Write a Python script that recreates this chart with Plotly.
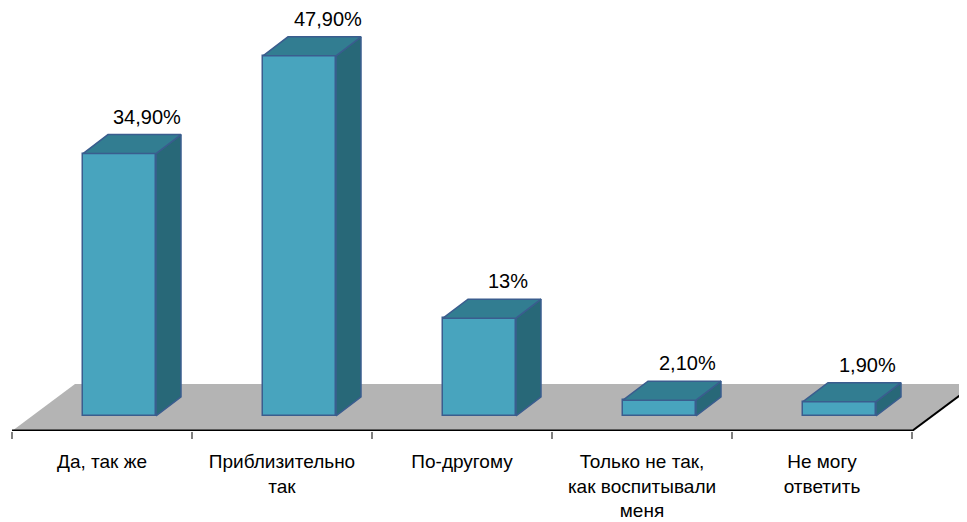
import plotly.graph_objects as go

# ---- data ----
categories = ["Да, так же", "Приблизительно<br>так", "По-другому",
              "Только не так,<br>как воспитывали<br>меня", "Не могу<br>ответить"]
values = [34.9, 47.9, 13.0, 2.1, 1.9]
value_labels = ["34,90%", "47,90%", "13%", "2,10%", "1,90%"]

# ---- geometry / style ----
FONT = "Liberation Sans, Arial, sans-serif"
FRONT = "#48A4BE"
TOP = "#327D91"
SIDE = "#286878"
EDGE = "#3A5D8E"
FLOOR = "#B4B4B4"

n = len(values)
idx = list(range(n))
bar_off = 0.0972      # bar centre shift from category centre (depth placement)
bar_w = 0.4056        # bar width in category units
ddx, ddv = 0.1389, 2.53   # bar depth offset (x units, value units)
fdx, fdv = 0.35, 6.25     # floor depth offset
y_lo, y_hi = -2.0, 54.26
x_lo, x_hi = -0.5222, 4.85

fig = go.Figure()

# front faces as real bars
fig.add_trace(go.Bar(
    x=[i + bar_off for i in idx], y=values, width=bar_w,
    marker=dict(color=FRONT, line=dict(color=EDGE, width=1.5)),
    hoverinfo="skip", showlegend=False))

# top and side faces
tx, ty, sx, sy = [], [], [], []
for i, v in zip(idx, values):
    x0 = i + bar_off - bar_w / 2
    x1 = i + bar_off + bar_w / 2
    tx += [x0, x1, x1 + ddx, x0 + ddx, x0, None]
    ty += [v, v, v + ddv, v + ddv, v, None]
    sx += [x1, x1 + ddx, x1 + ddx, x1, x1, None]
    sy += [0, ddv, v + ddv, v, 0, None]
fig.add_trace(go.Scatter(x=sx, y=sy, mode="lines", fill="toself", fillcolor=SIDE,
                         line=dict(color=EDGE, width=1.5), hoverinfo="skip", showlegend=False))
fig.add_trace(go.Scatter(x=tx, y=ty, mode="lines", fill="toself", fillcolor=TOP,
                         line=dict(color=EDGE, width=1.5), hoverinfo="skip", showlegend=False))

# floor (below traces)
fl, fr = -0.5, n - 0.5
fig.add_shape(type="path", layer="below", xref="x", yref="y",
              path=f"M {fl},{y_lo} L {fl+fdx},{y_lo+fdv} L {fr+fdx},{y_lo+fdv} L {fr},{y_lo} Z",
              fillcolor=FLOOR, line=dict(width=0))
# front edge and right edge
fig.add_shape(type="line", xref="x", yref="y", x0=fl, y0=y_lo, x1=fr, y1=y_lo,
              line=dict(color="black", width=3), layer="above")
fig.add_shape(type="line", xref="x", yref="y", x0=fr, y0=y_lo, x1=fr + fdx, y1=y_lo + fdv,
              line=dict(color="black", width=2), layer="above")

# value labels
for i, v, t in zip(idx, values, value_labels):
    fig.add_annotation(x=i + bar_off + ddx, y=v + ddv, text=t, showarrow=False,
                       yanchor="middle", yshift=18, xshift=3,
                       font=dict(family=FONT, size=20, color="#000000"))

fig.update_layout(
    width=967, height=522,
    margin=dict(l=0, r=0, t=0, b=99),
    paper_bgcolor="white", plot_bgcolor="white",
    bargap=0,
    xaxis=dict(range=[x_lo, x_hi], tickvals=idx, ticktext=categories,
               ticks="", showgrid=False, zeroline=False, showline=False,
               ticklabelstandoff=17,
               tickfont=dict(family=FONT, size=19, color="#000000"),
               minor=dict(tickvals=[i - 0.5 for i in range(n + 1)], ticks="outside",
                          ticklen=7, tickwidth=1.5, tickcolor="#808080", showgrid=False)),
    yaxis=dict(range=[y_lo, y_hi], showgrid=False, zeroline=False, showline=False,
               showticklabels=False, ticks=""),
)

fig.write_html("out.html")
